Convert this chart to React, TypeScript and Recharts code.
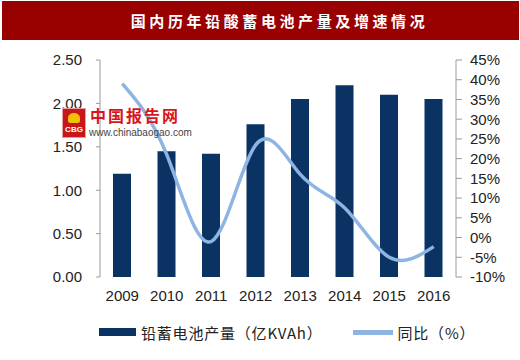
import { ComposedChart, Bar, Line, XAxis, YAxis } from "recharts";

const years = ["2009", "2010", "2011", "2012", "2013", "2014", "2015", "2016"];
const output = [1.19, 1.45, 1.42, 1.76, 2.05, 2.21, 2.1, 2.05];
const growth = [39, 21, -1, 23.5, 16, 7.5, -5, -2.3];
const leftTicks = [0, 0.5, 1, 1.5, 2, 2.5];
const rightTicks = [-10, -5, 0, 5, 10, 15, 20, 25, 30, 35, 40, 45];
const edgeTicks = [0, 1, 2, 3, 4, 5, 6, 7, 8];

const data = years.map((year, i) => ({
  year,
  output: output[i],
  growth: growth[i],
}));

const BAR = "#0a3263";
const LINE = "#8db4e2";
const AXIS = "#9a9a9a";
const tickFont = {
  fill: "#222",
  fontSize: 15,
  fontFamily: "'Liberation Sans', Arial, sans-serif",
};
const cjk = "'Noto Sans CJK SC', sans-serif";

export default function App() {
  return (
    <div
      style={{
        position: "absolute",
        left: 0,
        top: 0,
        width: 520,
        height: 360,
        background: "#fff",
        overflow: "hidden",
      }}
    >
      <div
        style={{
          position: "absolute",
          left: 2,
          top: 1,
          width: 517,
          height: 39,
          background: "#990000",
          color: "#fff",
          fontFamily: cjk,
          fontWeight: 700,
          fontSize: 15,
          letterSpacing: 3.6,
          lineHeight: "39px",
          textAlign: "center",
          paddingLeft: 38,
          boxSizing: "border-box",
        }}
      >
        国内历年铅酸蓄电池产量及增速情况
      </div>

      <ComposedChart
        width={520}
        height={360}
        data={data}
        margin={{ top: 60, right: 0, bottom: 53, left: 0 }}
        barCategoryGap={0}
      >
        <XAxis
          xAxisId="edge"
          type="number"
          domain={[0, 8]}
          ticks={edgeTicks}
          interval={0}
          height={0}
          stroke={AXIS}
          tickSize={6}
          tickFormatter={() => ""}
        />
        <XAxis
          dataKey="year"
          height={30}
          axisLine={false}
          tickLine={false}
          tickSize={0}
          tickMargin={13}
          tick={tickFont}
          interval={0}
        />
        <YAxis
          yAxisId="left"
          domain={[0, 2.5]}
          ticks={leftTicks}
          interval={0}
          width={100}
          stroke={AXIS}
          tickSize={4}
          tickMargin={14}
          tick={tickFont}
          tickFormatter={(v: number) => v.toFixed(2)}
        />
        <YAxis
          yAxisId="right"
          orientation="right"
          domain={[-10, 45]}
          ticks={rightTicks}
          interval={0}
          width={64}
          stroke={AXIS}
          tickSize={6}
          tickMargin={8}
          tick={{ ...tickFont, textAnchor: "start" }}
          tickFormatter={(v: number) => `${v}%`}
        />
        <Bar
          yAxisId="left"
          dataKey="output"
          fill={BAR}
          barSize={18}
          isAnimationActive={false}
        />
        <Line
          yAxisId="right"
          dataKey="growth"
          type="natural"
          stroke={LINE}
          strokeWidth={3.5}
          dot={false}
          activeDot={false}
          isAnimationActive={false}
        />
      </ComposedChart>

      {/* watermark */}
      <div
        style={{
          position: "absolute",
          left: 62,
          top: 108,
          width: 22,
          height: 28,
          background: "#c8161d",
          border: "1px solid #e8a0a0",
          color: "#fff",
          fontFamily: "'Liberation Sans', Arial, sans-serif",
          fontSize: 8,
          fontWeight: 700,
          textAlign: "center",
          lineHeight: "8px",
        }}
      >
        <div
          style={{
            width: 12,
            height: 10,
            margin: "4px auto 3px",
            background: "#f2c200",
            borderRadius: "50% 50% 20% 20%",
          }}
        />
        CBG
      </div>
      <div
        style={{
          position: "absolute",
          left: 90,
          top: 107,
          fontFamily: cjk,
          fontWeight: 700,
          fontSize: 16,
          lineHeight: "17px",
          color: "#d9141c",
          letterSpacing: 2,
        }}
      >
        中国报告网
      </div>
      <div
        style={{
          position: "absolute",
          left: 89,
          top: 128,
          fontFamily: "'Liberation Sans', Arial, sans-serif",
          fontSize: 10,
          lineHeight: "10px",
          color: "#444",
        }}
      >
        www.chinabaogao.com
      </div>

      {/* legend */}
      <div
        style={{
          position: "absolute",
          left: 99,
          top: 320,
          height: 24,
          display: "flex",
          alignItems: "center",
          fontFamily: cjk,
          fontSize: 15,
          color: "#222",
          whiteSpace: "nowrap",
        }}
      >
        <span
          style={{ width: 37, height: 8, background: BAR, marginRight: 5 }}
        />
        <span style={{ letterSpacing: 0.8 }}>铅蓄电池产量（亿KVAh）</span>
        <span
          style={{
            width: 40,
            height: 5,
            background: LINE,
            marginLeft: 30,
            marginRight: 5,
          }}
        />
        <span style={{ letterSpacing: 0.8 }}>同比（%）</span>
      </div>
    </div>
  );
}
